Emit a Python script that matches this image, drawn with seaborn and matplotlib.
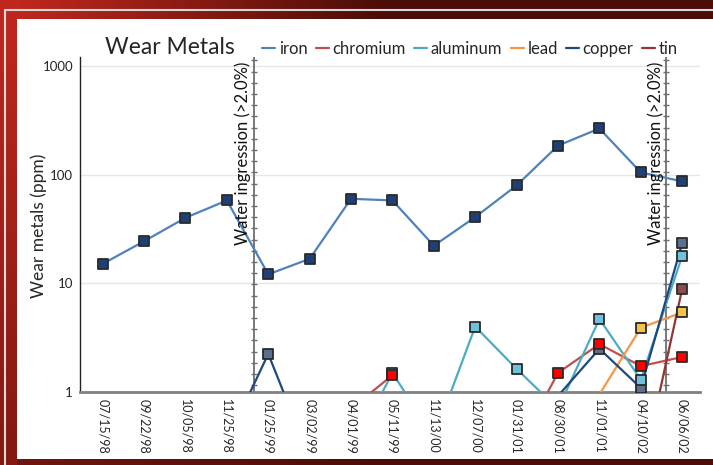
import numpy as np
import pandas as pd
import matplotlib
matplotlib.use("Agg")
import matplotlib.pyplot as plt
import seaborn as sns
from matplotlib.lines import Line2D
from matplotlib.patches import Rectangle
from matplotlib.ticker import FixedLocator, FixedFormatter

# ---------------- data ----------------
dates = ["07/15/98", "09/22/98", "10/05/98", "11/25/98", "01/25/99", "03/02/99",
         "04/01/99", "05/11/99", "11/13/00", "12/07/00", "01/31/01", "08/30/01",
         "11/01/01", "04/10/02", "06/06/02"]
nan = np.nan
iron = [15.1, 24.4, 40.1, 57.9, 12.1, 16.8, 60, 57.9, 22.2, 40.7, 79.6, 185, 266, 105, 86.7]
chromium = [nan, nan, nan, nan, nan, nan, 0.7, 1.43, nan, nan, 0.29, 1.5, 2.76, 1.73, 2.1]
aluminum = [nan, nan, nan, nan, nan, nan, 0.28, 1.5, 0.38, 4.0, 1.63, 0.7, 4.7, 1.3, 17.9]
lead = [nan, nan, nan, nan, nan, nan, nan, nan, nan, nan, nan, nan, 0.95, 3.9, 5.4]
copper = [nan, nan, nan, 0.35, 2.24, 0.25, nan, nan, nan, nan, nan, 0.92, 2.5, 1.09, 23.5]
tin = [nan, nan, nan, nan, nan, nan, nan, nan, nan, nan, nan, nan, nan, 0.16, 8.9]
metals = ["iron", "chromium", "aluminum", "lead", "copper", "tin"]
series = {"iron": iron, "chromium": chromium, "aluminum": aluminum,
          "lead": lead, "copper": copper, "tin": tin}
ingression_label = "Water ingression (>2.0%)"
ingression_pos = [3.66, 13.62]
yticks = [1, 10, 100, 1000]

line_colors = {"iron": "#4f81bd", "chromium": "#c0504d", "aluminum": "#4bacc6",
               "lead": "#f79646", "copper": "#1f497d", "tin": "#943634"}
marker_colors = {"iron": "#1f3f77", "chromium": "#ff0000", "aluminum": "#6ec3da",
                 "lead": "#f2c44e", "copper": "#5b6f8f", "tin": "#8c4a4a"}

rows = []
for m in metals:
    for i, v in enumerate(series[m]):
        rows.append({"metal": m, "idx": i, "date": dates[i], "ppm": v})
df = pd.DataFrame(rows)

# ---------------- figure ----------------
sns.set_theme(style="white")
plt.rcParams["font.family"] = ["Lato", "DejaVu Sans"]
W, H = 713, 465
fig = plt.figure(figsize=(W / 100, H / 100), dpi=100)

# background (photo frame look)
bg = fig.add_axes([0, 0, 1, 1])
yy, xx = np.mgrid[0:H, 0:W]
base = np.array([0.30, 0.05, 0.03])
red = np.array([0.78, 0.16, 0.12])
t = np.clip(1 - xx / 380.0, 0, 1) * np.clip(1 - yy / 600.0, 0.3, 1)
t = np.where(xx < 17, np.clip(0.95 - yy / 900.0, 0.4, 1), t)
img = base[None, None, :] * (1 - t[..., None]) + red[None, None, :] * t[..., None]
bg.imshow(img, aspect="auto", extent=[0, W, H, 0])
bg.set_xlim(0, W)
bg.set_ylim(H, 0)
bg.axis("off")
bg.add_patch(Rectangle((17, 19), W - 17, 440, facecolor="white", edgecolor="none"))
bg.plot([5, W], [10, 10], color="#d8d8d8", lw=1.5)
bg.plot([5, 5], [10, H], color="#d8d8d8", lw=1.5)

ax = fig.add_axes([80 / W, 1 - 392 / H, (700 - 80) / W, (392 - 57) / H])
ax.set_facecolor("white")
ax.set_yscale("log")
ax.set_ylim(1, 1210)
ax.set_xlim(-0.548, 14.43)

# lines (split into contiguous runs so gaps stay gaps)
for m in metals:
    d = df[df.metal == m].reset_index(drop=True)
    valid = d["ppm"].notna()
    run_id = (~valid).cumsum()
    for _, seg in d[valid].groupby(run_id[valid]):
        if len(seg) > 1:
            sns.lineplot(data=seg, x="idx", y="ppm", color=line_colors[m], lw=1.6,
                         ax=ax, legend=False, estimator=None, sort=False, zorder=3)

# markers (only values on-chart)
for m in ["copper", "aluminum", "lead", "tin", "chromium", "iron"]:
    d = df[(df.metal == m) & (df.ppm >= 1)]
    sns.scatterplot(data=d, x="idx", y="ppm", marker="s", s=42,
                    color=marker_colors[m], edgecolor="#2a2a2a", linewidth=1.3,
                    ax=ax, legend=False, zorder=5)

# water ingression markers
for p in ingression_pos:
    ax.axvline(p, color="#6e6e6e", lw=1.3, zorder=2)
    ax.plot([p] * 30, np.linspace(0.02, 0.99, 30), transform=ax.get_xaxis_transform(),
            ls="none", marker="_", ms=4, mew=1, color="#6e6e6e", zorder=2)
    ax.text(p - 0.27, 0.985, ingression_label, transform=ax.get_xaxis_transform(),
            rotation=90, ha="center", va="top", fontsize=12, color="#111111", zorder=4)

# axes styling
ax.yaxis.set_major_locator(FixedLocator(yticks))
ax.yaxis.set_major_formatter(FixedFormatter([str(v) for v in yticks]))
ax.yaxis.set_minor_locator(FixedLocator([]))
ax.set_xticks(range(len(dates)))
ax.set_xticklabels(dates, rotation=-90, fontsize=9)
ax.xaxis.set_minor_locator(FixedLocator(np.arange(-0.5, 14.5, 1)))
ax.tick_params(axis="x", which="major", length=0, pad=5)
ax.tick_params(axis="x", which="minor", length=4, color="#a0a0a0", width=1)
ax.tick_params(axis="y", which="major", length=0, labelsize=9.5, pad=5)
ax.grid(True, axis="y", which="major", color="#e6e6e6", lw=1)
ax.grid(False, axis="x")
for s in ["top", "right"]:
    ax.spines[s].set_visible(False)
ax.spines["left"].set_color("#222222")
ax.spines["left"].set_linewidth(1)
ax.spines["bottom"].set_color("#808080")
ax.spines["bottom"].set_linewidth(2)
ax.set_xlabel("")
ax.set_ylabel("Wear metals (ppm)", fontsize=12.5)
ax.yaxis.set_label_coords(-0.053, 0.496)

fig.text(105 / W, 1 - 48 / H, "Wear Metals", fontsize=16.5, va="center", ha="left")
handles = [Line2D([0], [0], color=line_colors[m], lw=1.6) for m in metals]
fig.legend(handles, metals, loc="center left", bbox_to_anchor=(262 / W, 1 - 49 / H),
           ncol=6, frameon=False, fontsize=12, handlelength=0.8, handletextpad=0.2,
           columnspacing=0.5, borderaxespad=0, borderpad=0)

fig.savefig("out.png", dpi=100)
